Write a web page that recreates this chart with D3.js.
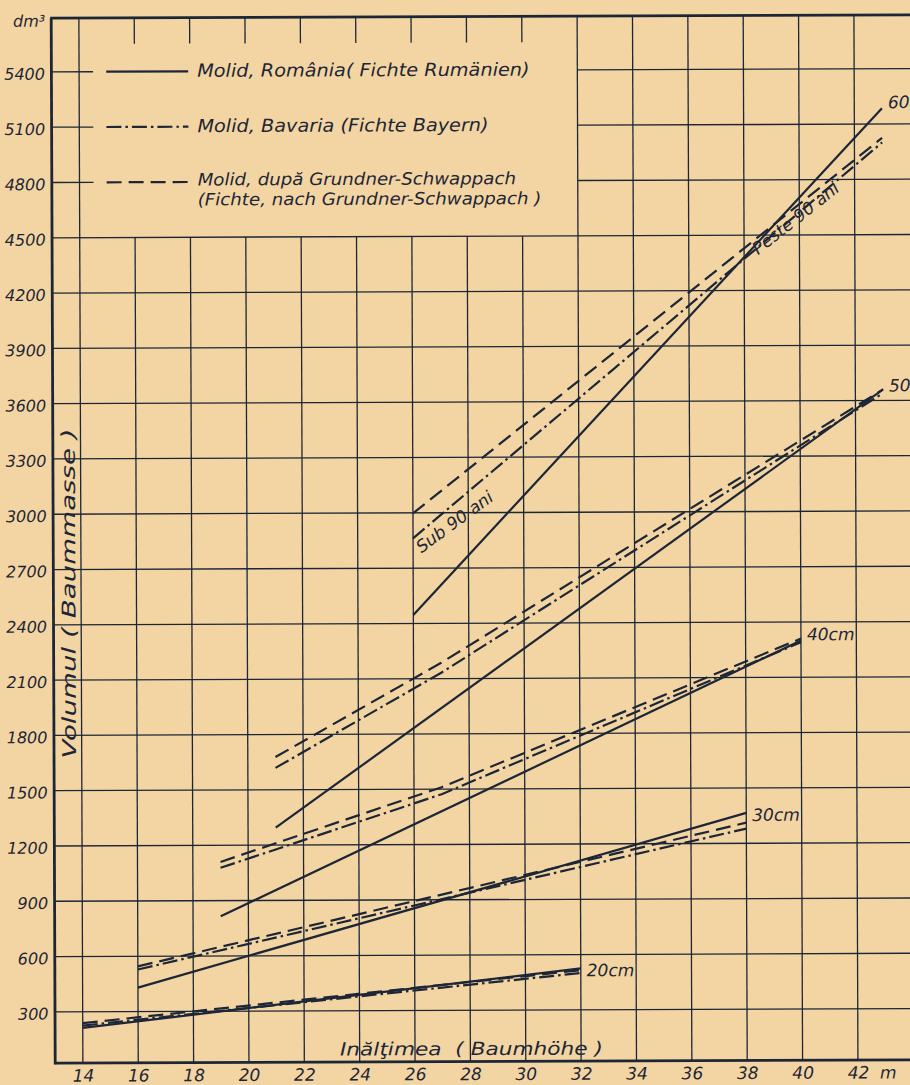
<!DOCTYPE html>
<html>
<head>
<meta charset="utf-8">
<script src="https://cdn.jsdelivr.net/npm/d3@7"></script>
<style>
  html, body { margin: 0; padding: 0; background: #f3d5a3; }
  svg { display: block; }
  text { font-family: "DejaVu Sans", sans-serif; font-style: italic; fill: #1d2636; }
</style>
</head>
<body>
<svg id="chart" width="910" height="1085"></svg>
<script>
// Tree height (m) on the x axis, stem volume (dm³) on the y axis
const heightTicks = [14, 16, 18, 20, 22, 24, 26, 28, 30, 32, 34, 36, 38, 40, 42];
const volumeTicks = [300, 600, 900, 1200, 1500, 1800, 2100, 2400, 2700, 3000, 3300, 3600, 3900, 4200, 4500, 4800, 5100, 5400];

// Spruce volume curves per breast-height diameter: [height m, volume dm³]
// Romania (solid)
const romania20 = [[14, 212], [32, 525]];
const romania30 = [[16, 430], [38, 1365]];
const romania40 = [[19, 815], [40, 2300]];
const romania50 = [[21, 1295], [43, 3660]];
const romania60 = [[26, 2446], [43, 5186]];
// Bavaria (dash-dot)
const bavaria20 = [[14, 225], [32, 500]];
const bavaria30 = [[16, 528], [38, 1280]];
const bavaria40 = [[19, 1078], [27, 1473], [40, 2290]];
const bavaria50 = [[21, 1619], [27, 2132], [43, 3640]];
const bavaria60 = [[26, 2862], [43, 5000]];
// Grundner-Schwappach (dashed)
const grundner20 = [[14, 238], [32, 515]];
const grundner30 = [[16, 545], [38, 1312]];
const grundner40 = [[19, 1110], [27, 1511], [40, 2310]];
const grundner50 = [[21, 1678], [27, 2186], [43, 3660]];
const grundner60 = [[26, 2997], [43, 5025]];

const diameterLabels = ["20cm", "30cm", "40cm", "50", "60"];
const legendLabels = [
  "Molid, România( Fichte Rumänien)",
  "Molid, Bavaria (Fichte Bayern)",
  "Molid, după Grundner-Schwappach"
];
const legendSubLabel = "(Fichte, nach Grundner-Schwappach )";
const ageLabels = ["Sub 90 ani", "Peste 90 ani"];

const INK = "#1d2636";
const svg = d3.select("#chart");
// the sheet sits very slightly turned
const g = svg.append("g").attr("transform", "rotate(-0.22 480 540)");

const x = d3.scaleLinear().domain([13, 44]).range([53.2, 911.3]);
const y = d3.scaleLinear().domain([0, 5700]).range([1065.5, 15.0]);

const TOP = 16.5, BOTTOM = 1061.5, LEFT = x(13);

// stretch a text element so the lettering runs a little wider than the font
function widen(sel, factor) {
  sel.each(function () {
    const w = this.getComputedTextLength();
    d3.select(this).attr("textLength", w * factor).attr("lengthAdjust", "spacingAndGlyphs");
  });
}

// ---- grid ----
const grid = g.append("g").attr("stroke", INK).attr("stroke-width", 1.3).attr("fill", "none");
const legendRight = x(32);
volumeTicks.forEach(v => {
  if (v <= 4500) {
    grid.append("line").attr("x1", LEFT).attr("x2", 912).attr("y1", y(v)).attr("y2", y(v));
  } else {
    grid.append("line").attr("x1", LEFT).attr("x2", x(14) + 14).attr("y1", y(v)).attr("y2", y(v));
    grid.append("line").attr("x1", legendRight).attr("x2", 912).attr("y1", y(v)).attr("y2", y(v));
  }
});
heightTicks.forEach(h => {
  if (h === 14 || h >= 32) {
    grid.append("line").attr("x1", x(h)).attr("x2", x(h)).attr("y1", TOP).attr("y2", BOTTOM);
  } else {
    grid.append("line").attr("x1", x(h)).attr("x2", x(h)).attr("y1", y(4500)).attr("y2", BOTTOM);
    grid.append("line").attr("x1", x(h)).attr("x2", x(h)).attr("y1", TOP).attr("y2", TOP + 26);
  }
});

// ---- frame ----
const frame = g.append("g").attr("stroke", INK).attr("stroke-width", 2.8).attr("fill", "none");
frame.append("line").attr("x1", LEFT).attr("x2", LEFT).attr("y1", TOP).attr("y2", BOTTOM + 1);
frame.append("line").attr("x1", LEFT - 1).attr("x2", 912).attr("y1", BOTTOM).attr("y2", BOTTOM);
frame.append("line").attr("x1", LEFT - 1).attr("x2", 912).attr("y1", TOP).attr("y2", TOP);

// ---- axes labels ----
const yAxis = d3.axisLeft(y).tickValues(volumeTicks).tickFormat(d3.format("d")).tickSize(0).tickPadding(6.5);
const yg = g.append("g").attr("transform", `translate(${LEFT},0)`).call(yAxis);
yg.select(".domain").remove();
yg.selectAll("text").attr("font-size", 16).attr("font-family", "DejaVu Sans").attr("font-style", "italic")
  .attr("fill", INK).attr("dy", "0.45em");

const xAxis = d3.axisBottom(x).tickValues(heightTicks).tickSize(0).tickPadding(6.5);
const xg = g.append("g").attr("transform", `translate(0,${BOTTOM})`).call(xAxis);
xg.select(".domain").remove();
xg.selectAll("text").attr("font-size", 17).attr("font-family", "DejaVu Sans").attr("font-style", "italic").attr("fill", INK);

g.append("text").attr("x", x(42) + 22).attr("y", 1080).attr("font-size", 17).text("m");
g.append("text").attr("x", 15).attr("y", 25).attr("font-size", 16).text("dm³");

g.append("text").attr("x", 338).attr("y", 1055).attr("font-size", 18)
  .attr("textLength", 263).attr("lengthAdjust", "spacingAndGlyphs")
  .attr("xml:space", "preserve").text("Inălţimea  ( Baumhöhe )");
g.append("text").attr("transform", `translate(${x(13.55)},${y(2570)}) rotate(-90)`)
  .attr("font-size", 19).attr("text-anchor", "middle").attr("dy", "0.35em")
  .attr("textLength", 330).attr("lengthAdjust", "spacingAndGlyphs")
  .text("Volumul ( Baummasse )");

// ---- curves ----
const styles = {
  romania: null,
  bavaria: "15,4,2.5,4",
  grundner: "15,7"
};
const series = [
  ["romania", [romania20, romania30, romania40, romania50, romania60]],
  ["bavaria", [bavaria20, bavaria30, bavaria40, bavaria50, bavaria60]],
  ["grundner", [grundner20, grundner30, grundner40, grundner50, grundner60]]
];
const line = d3.line().x(d => x(d[0])).y(d => y(d[1]));
const curves = g.append("g").attr("fill", "none").attr("stroke", INK).attr("stroke-width", 2.2);
series.forEach(([key, list]) => {
  list.forEach(pts => {
    curves.append("path").attr("d", line(pts)).attr("stroke-dasharray", styles[key]);
  });
});

// diameter labels at the curve ends
const ends = [romania20, romania30, romania40, romania50, romania60];
const labelDy = [8, 8, 0, 2, 0];
diameterLabels.forEach((lab, i) => {
  const last = ends[i][ends[i].length - 1];
  g.append("text").attr("x", x(last[0]) + 6).attr("y", y(last[1]) + labelDy[i]).attr("font-size", 17).text(lab);
});

// age class labels along the 60 cm curves
g.append("text").attr("transform", `translate(${x(26.3)},${y(2780)}) rotate(-36)`)
  .attr("font-size", 17).text(ageLabels[0]);
g.append("text").attr("transform", `translate(${x(38.5)},${y(4390)}) rotate(-38)`)
  .attr("font-size", 17).text(ageLabels[1]);

// ---- legend ----
const legend = g.append("g");
const legendY = [5400, 5100, 4800];
const legendTextDy = [5.5, 5.5, 3.5];
legendY.forEach((v, i) => {
  legend.append("line").attr("x1", 108).attr("x2", 190).attr("y1", y(v)).attr("y2", y(v))
    .attr("stroke", INK).attr("stroke-width", 2.2).attr("stroke-dasharray", styles[series[i][0]]);
  legend.append("text").attr("class", "legend-text").attr("x", 199).attr("y", y(v) + legendTextDy[i])
    .attr("font-size", i === 2 ? 17 : 18).text(legendLabels[i]);
});
legend.append("text").attr("class", "legend-text").attr("x", 199).attr("y", y(4800) + 23.5)
  .attr("font-size", 17).text(legendSubLabel);
widen(legend.selectAll(".legend-text"), 1.07);
</script>
</body>
</html>
